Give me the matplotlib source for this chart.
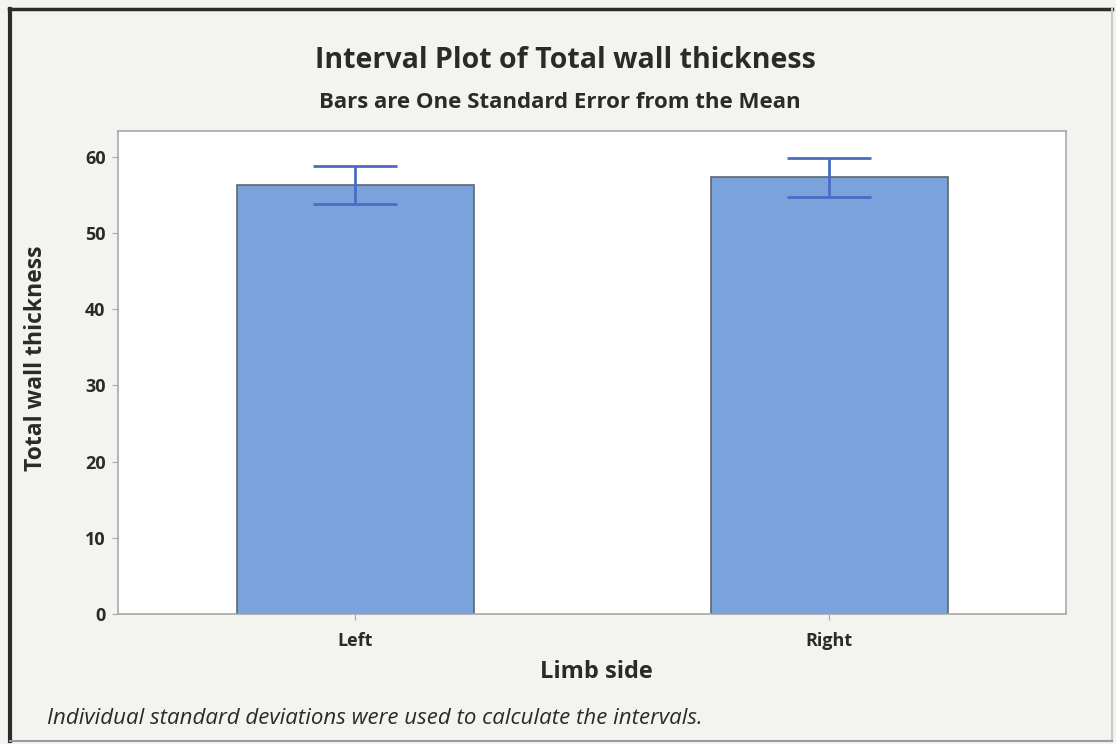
import numpy as np
import matplotlib.pyplot as plt
from matplotlib.lines import Line2D

# group means and standard errors
sides = ['Left', 'Right']
means = [56.3, 57.3]
std_err = [2.5, 2.5]

plt.rcParams['font.family'] = ['Open Sans', 'DejaVu Sans']

fig = plt.figure(figsize=(11.16, 7.44), dpi=100)
fig.patch.set_facecolor('#f3f3f0')

ax = fig.add_axes([118/1116, 1 - 614/744, 948/1116, 483/744])
ax.set_facecolor('white')

x = np.arange(len(sides))
ax.bar(x, means, width=0.5, color='#7aa3dc', edgecolor='#5f6670', linewidth=1.2, zorder=2)
ax.errorbar(x, means, yerr=std_err, fmt='none', ecolor='#4a6cc4',
            elinewidth=2, capsize=30, capthick=2, zorder=3)

ax.set_xlim(-0.5, 1.5)
ax.set_ylim(0, 63.4)
ax.set_yticks(np.arange(0, 61, 10))
ax.set_xticks(x)
ax.set_xticklabels(sides)
for s in ax.spines.values():
    s.set_color('#a8a8a8')
    s.set_linewidth(1.2)
ax.tick_params(length=4, color='#a8a8a8', labelsize=13, labelcolor='#2a2a2a', pad=5)
ax.tick_params(axis='x', pad=9)
for lbl in ax.get_xticklabels() + ax.get_yticklabels():
    lbl.set_fontweight('bold')

ax.set_ylabel('Total wall thickness', fontsize=16.5, fontweight='bold', color='#2a2a2a', va='center')
ax.yaxis.set_label_coords((36 - 118) / 948, (614 - 358) / 483)
ax.set_xlabel('Limb side', fontsize=17, fontweight='bold', color='#2a2a2a', va='center')
ax.xaxis.set_label_coords((596 - 118) / 948, (614 - 672) / 483)

fig.text(565/1116, 1 - 60/744, 'Interval Plot of Total wall thickness', ha='center', va='center',
         fontsize=20.5, fontweight='bold', color='#2a2a2a')
fig.text(560/1116, 1 - 102/744, 'Bars are One Standard Error from the Mean', ha='center', va='center',
         fontsize=16, fontweight='bold', color='#2a2a2a')
fig.text(47/1116, 1 - 718/744, 'Individual standard deviations were used to calculate the intervals.',
         ha='left', va='center', fontsize=16, style='italic', color='#2a2a2a')

# frame round the whole graph
fig.add_artist(Line2D([9/1116, 1112/1116], [1 - 9/744, 1 - 9/744], color='#2b2b2b', lw=2.5))
fig.add_artist(Line2D([10/1116, 10/1116], [1 - 9/744, 1 - 741/744], color='#2b2b2b', lw=3))
fig.add_artist(Line2D([1112/1116, 1112/1116], [1 - 9/744, 1 - 741/744], color='#c8c8c8', lw=1.5))
fig.add_artist(Line2D([10/1116, 1112/1116], [1 - 741/744, 1 - 741/744], color='#9a9a9a', lw=1.5))

fig.savefig('out.png', dpi=100, facecolor=fig.get_facecolor())
